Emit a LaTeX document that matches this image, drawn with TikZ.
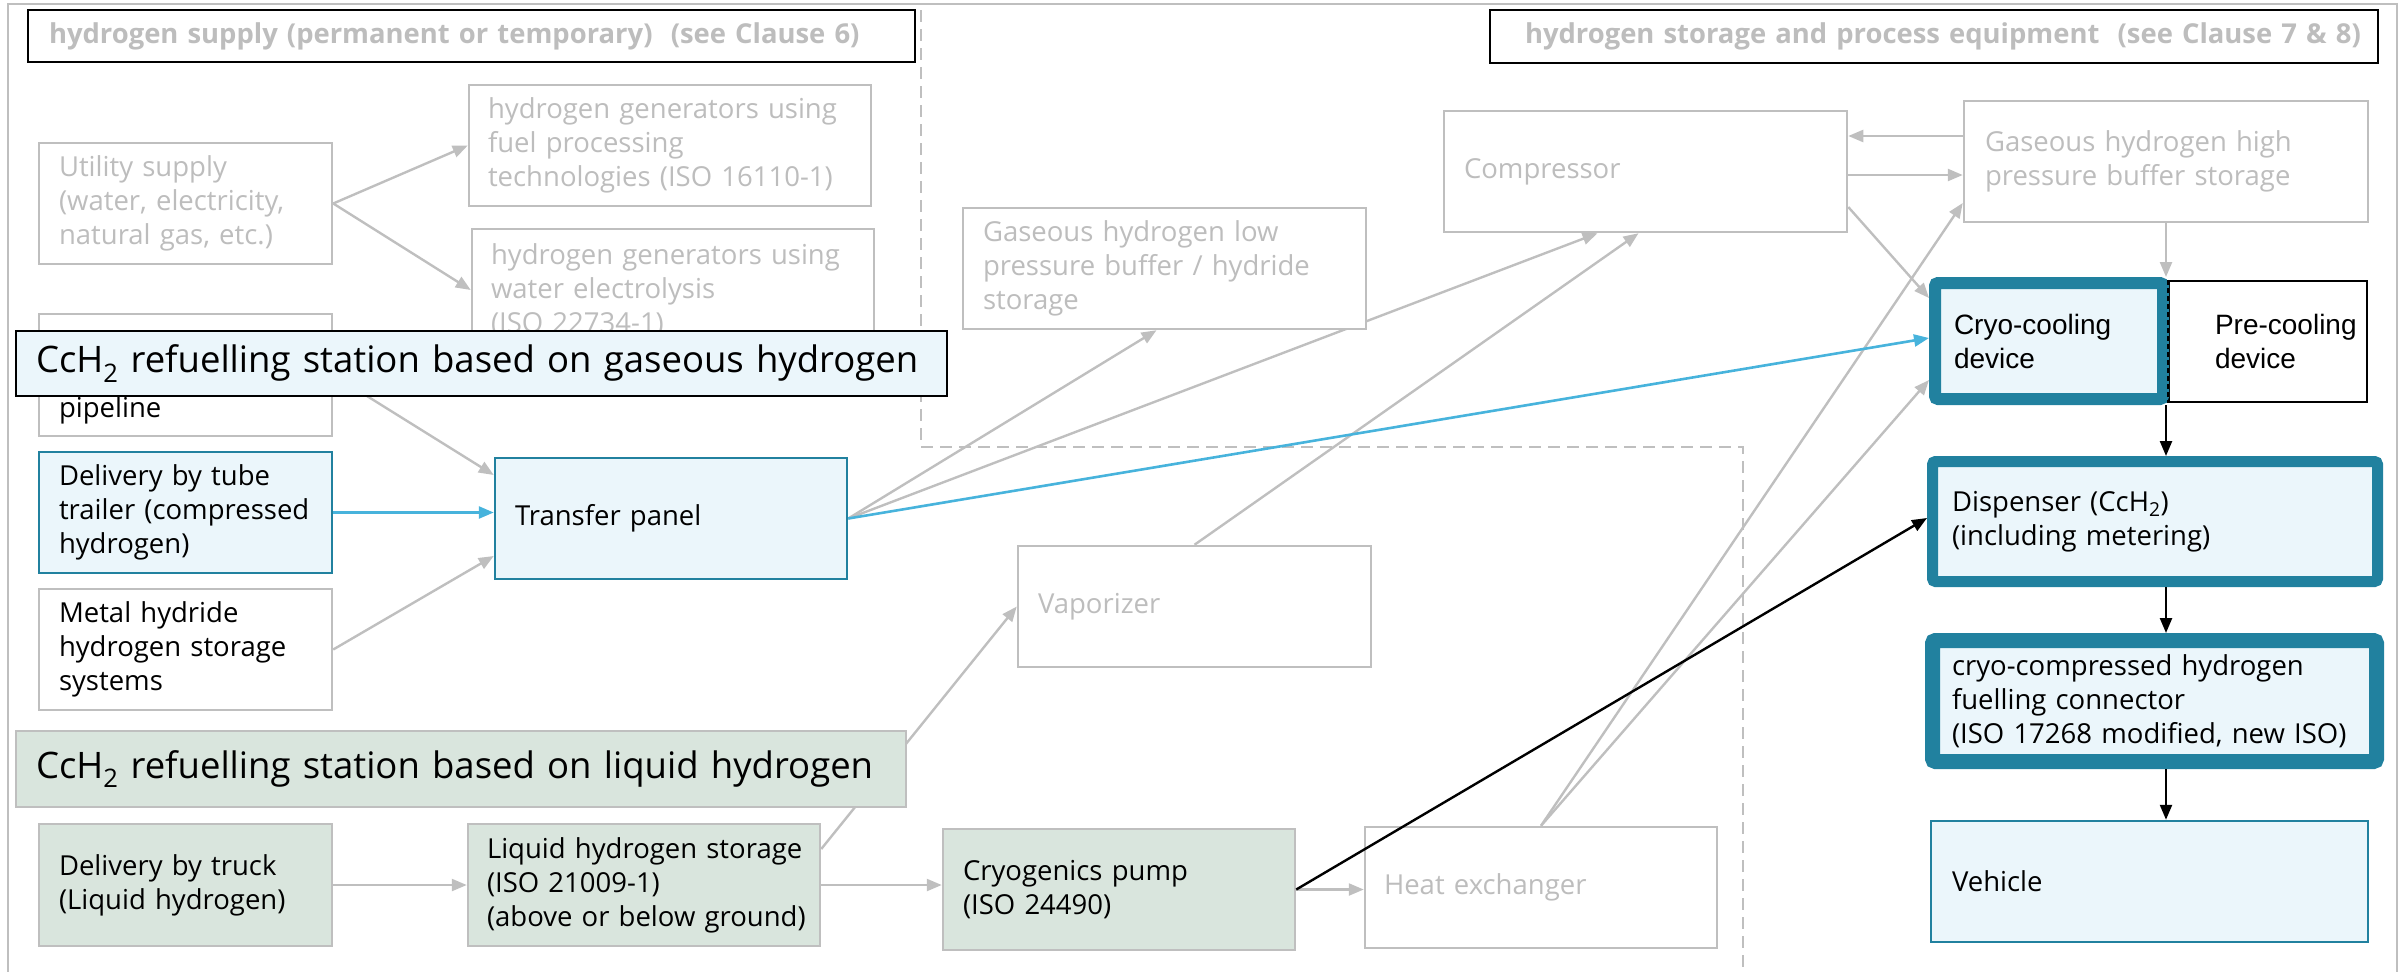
\documentclass[tikz,border=0pt]{standalone}
\usepackage{fontspec}
\setmainfont{Open Sans}
\newfontfamily\arialfont{Liberation Sans}
\usetikzlibrary{arrows.meta,calc}
\pgfdeclarelayer{bg}
\pgfsetlayers{bg,main}
\definecolor{lgray}{HTML}{BFBFBF}
\definecolor{tgray}{HTML}{BDBDBD}
\definecolor{lblue}{HTML}{EBF6FB}
\definecolor{tealb}{HTML}{21819F}
\definecolor{cyanl}{HTML}{47B3DC}
\definecolor{lgreen}{HTML}{D9E5DD}
\tikzset{
  sz/.code n args={5}{%
    \pgfmathsetmacro\bw{#3-#1}\pgfmathsetmacro\bh{#4-#2}\pgfmathsetmacro\tw{#3-#1-2*#5}%
    \pgfmathsetmacro\cx{(#1+#3)/2}\pgfmathsetmacro\cy{(#2+#4)/2}%
    \edef\tmpsz{\noexpand\pgfkeysalso{minimum width=\bw pt,minimum height=\bh pt,inner xsep=#5pt,text width=\tw pt,at={(\cx,\cy)}}}\tmpsz},
  tab/.style={align=left, execute at begin node={\rightskip=0pt plus 1fil minus 300pt\relax}},
  base/.style={rectangle, inner ysep=0pt, line width=2.5pt, tab, font=\fontsize{27.5}{34}\selectfont},
  gbox/.style={base, draw=lgray, fill=white, text=tgray},
  wbox/.style={base, draw=lgray, fill=white, text=black},
  bbox/.style={base, draw=tealb, fill=lblue, text=black},
  grbox/.style={base, draw=lgray, fill=lgreen, text=black},
  thick/.style={base, draw=tealb, fill=lblue, text=black, rounded corners=3pt, line width=#1},
  hdr/.style={base, draw=black, fill=white, text=tgray, font=\bfseries\fontsize{27.4}{34}\selectfont},
  banner/.style={base, draw=black, line width=2pt, font=\fontsize{36.5}{62}\selectfont, text=black},
  arialtxt/.style={font=\arialfont\fontsize{28}{34}\selectfont},
  garrow/.style={draw=lgray, line width=2.4pt, -{Triangle[length=15pt,width=12pt]}},
  barrow/.style={draw=cyanl, line width=2.6pt, -{Triangle[length=15pt,width=12pt]}},
  karrow/.style={draw=black, line width=2.4pt, -{Triangle[length=15pt,width=12pt]}},
}
\begin{document}
\begin{tikzpicture}[x=1pt,y=-1pt]
\useasboundingbox (0,0) rectangle (2402,972);
% frame and zone boundary
\draw[lgray, line width=2pt] (8,990) -- (8,4) -- (2397,4) -- (2397,990);
\draw[lgray, line width=2pt, dash pattern=on 12pt off 7pt] (921,10) -- (921,447) -- (1743,447) -- (1743,990);
% headers
\node[hdr, sz={28}{10}{915}{62}{21}] (h1) {hydrogen supply (permanent or temporary)\ \ (see Clause 6)};
\node[hdr, sz={1490}{10}{2378}{63}{35}] (h2) {hydrogen storage and process equipment\ \ (see Clause 7 \& 8)};
% boxes
\node[gbox, sz={39}{143}{332}{264}{20}] (util) {Utility supply\\(water, electricity,\\natural gas, etc.)};
\node[gbox, sz={469}{85}{871}{206}{19}] (gen1) {hydrogen generators using\\fuel processing\\technologies (ISO 16110-1)};
\node[gbox, sz={472}{229}{874}{351}{19}] (gen2) {hydrogen generators using\\water electrolysis\\(ISO 22734-1)};
\node[wbox, sz={39}{314}{332}{436}{20}] (pipe) {\strut\\\strut\\pipeline};
\node[bbox, sz={39}{452}{332}{573}{20}] (tube) {Delivery by tube\\trailer (compressed\\hydrogen)};
\node[bbox, sz={495}{458}{847}{579}{20}] (transfer) {Transfer panel};
\node[wbox, sz={39}{589}{332}{710}{20}] (metal) {Metal hydride\\hydrogen storage\\systems};
\node[gbox, sz={963}{208}{1366}{329}{20}] (lowp) {Gaseous hydrogen low\\pressure buffer / hydride\\storage};
\node[gbox, sz={1444}{111}{1847}{232}{20}] (comp) {Compressor};
\node[gbox, sz={1964}{101}{2368}{222}{21}] (highp) {Gaseous hydrogen high\\pressure buffer storage};
\node[gbox, sz={1018}{546}{1371}{667}{20}] (vap) {Vaporizer};
\node[grbox, sz={39}{824}{332}{946}{20}] (truck) {Delivery by truck\\(Liquid hydrogen)};
\node[grbox, sz={468}{824}{820}{946}{19}] (lh2) {Liquid hydrogen storage\\(ISO 21009-1)\\(above or below ground)};
\node[grbox, sz={943}{829}{1295}{950}{20}] (pump) {Cryogenics pump\\(ISO 24490)};
\node[gbox, sz={1365}{827}{1717}{948}{19}] (hx) {Heat exchanger};
\node[wbox, draw=black, arialtxt, sz={2169}{281}{2367}{402}{46}] (precool) {Pre-cooling\\device};
\node[thick=12pt, arialtxt, sz={1935}{283}{2163}{399}{19}] (cryo) {Cryo-cooling\\device};
\draw[black, line width=1.5pt, dash pattern=on 5pt off 3pt] (precool.north west) -- (precool.south west);
\node[thick=11pt, sz={1932.5}{461.5}{2377.5}{581.5}{19.5}] (disp) {Dispenser (CcH\textsubscript{2})\\(including metering)};
\node[thick=15pt, sz={1932.5}{640.5}{2376.5}{761.5}{19.5}] (conn) {cryo-compressed hydrogen\\fuelling connector\\(ISO 17268 modified, new ISO)};
\node[bbox, sz={1931}{821}{2368}{942}{21}] (veh) {Vehicle};
% grey connectors (behind boxes)
\begin{pgfonlayer}{bg}
\draw[garrow] (util.east) -- (gen1.west);
\draw[garrow] (util.east) -- (gen2.west);
\draw[garrow] (pipe.east) -- ($(transfer.west)+(0,-43.5)$);
\draw[garrow] (metal.east) -- ($(transfer.west)+(0,37.5)$);
\draw[garrow] (transfer.east) -- ($(lowp.south)+(-8,0)$);
\draw[garrow] (transfer.east) -- ($(comp.south)+(-48,0)$);
\draw[garrow] (vap.north) -- ($(comp.south)+(-7,0)$);
\draw[garrow] ($(lh2.east)+(0,-36)$) -- (vap.west);
\draw[garrow] (truck.east) -- (lh2.west);
\draw[garrow] (lh2.east) -- (lh2.east -| pump.west);
\draw[garrow] (pump.east) -- (pump.east -| hx.west);
\draw[garrow] (hx.north) -- ($(highp.west)+(0,41.5)$);
\draw[garrow] (hx.north) -- ($(cryo.west)+(0,39)$);
\draw[garrow] ($(comp.east)+(0,35.5)$) -- ($(cryo.west)+(0,-43)$);
\draw[garrow] ($(highp.west)+(0,-25.5)$) -- ($(comp.east)+(0,-35.5)$);
\draw[garrow] ($(comp.east)+(0,3.5)$) -- ($(highp.west)+(0,13.5)$);
\draw[garrow] (highp.south) -- (highp.south |- cryo.north);
\end{pgfonlayer}
% coloured connectors
\draw[barrow] (tube.east) -- (tube.east -| transfer.west);
\draw[barrow] (transfer.east) -- ($(cryo.west)+(0,-3)$);
\draw[karrow] (pump.east) -- ($(disp.west)+(0,-3.5)$);
\draw[karrow] (cryo.south -| highp.south) -- (disp.north -| highp.south);
\draw[karrow] (disp.south -| highp.south) -- (conn.north -| highp.south);
\draw[karrow] (conn.south -| highp.south) -- (veh.north -| highp.south);
% banners
\node[banner, fill=lblue, sz={16}{331}{947}{396}{20}] (bgas) {CcH\textsubscript{2} refuelling station based on gaseous hydrogen};
\node[banner, draw=lgray, line width=2.5pt, fill=lgreen, sz={16}{731}{906}{807}{20}] (bliq) {CcH\textsubscript{2} refuelling station based on liquid hydrogen};
\end{tikzpicture}
\end{document}
